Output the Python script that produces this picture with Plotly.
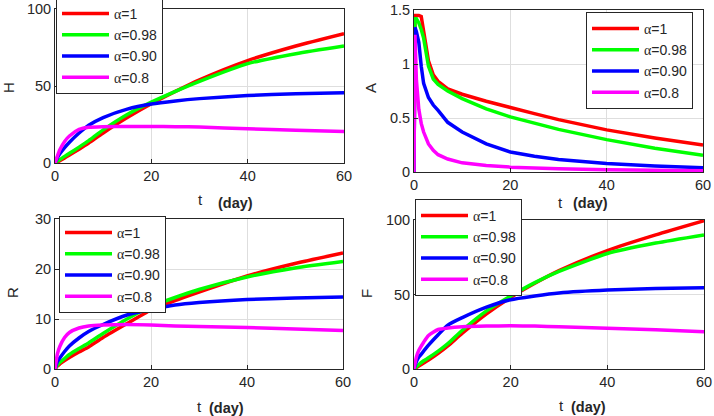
import plotly.graph_objects as go

W, H_PX = 714, 416

# ---------------- data ----------------
t = [0, 0.5, 1, 2, 3, 5, 7, 10, 15, 20, 25, 30, 40, 50, 60]
tA = [0, 0.2, 0.5, 1, 1.5, 2, 3, 4, 5, 7, 10, 15, 20, 25, 30, 40, 50, 60]

label_values = ["1", "0.98", "0.90", "0.8"]
colors = ["#ff0000", "#00ff00", "#0000ff", "#ff00ff"]

H_vals = [
    [0, 0.7, 1.5, 3.3, 5.2, 9, 13, 19.5, 29.5, 38.5, 46.5, 54, 66.5, 76, 84],
    [0, 1.2, 2.2, 4.3, 6.3, 10.3, 14.5, 21.5, 31.5, 39.5, 46.5, 53, 64.5, 71, 76],
    [0, 3.5, 6, 10, 13.5, 19.5, 24.5, 29.5, 35, 38.3, 40.3, 41.8, 43.8, 45, 45.6],
    [0, 4.5, 8.6, 14, 17.5, 21.8, 23.2, 23.6, 23.7, 23.7, 23.6, 23.3, 22.3, 21.2, 20.5],
]
A_vals = [
    [0, 1.45, 1.45, 1.45, 1.44, 1.3, 1.03, 0.9, 0.84, 0.77, 0.72, 0.655, 0.595, 0.54, 0.485, 0.39, 0.315, 0.25],
    [0, 1.42, 1.42, 1.38, 1.32, 1.24, 0.98, 0.86, 0.81, 0.75, 0.68, 0.585, 0.51, 0.45, 0.395, 0.30, 0.22, 0.155],
    [0, 1.34, 1.3, 1.2, 0.98, 0.82, 0.69, 0.62, 0.57, 0.46, 0.37, 0.26, 0.185, 0.145, 0.115, 0.078, 0.055, 0.04],
    [0, 1.27, 0.85, 0.58, 0.45, 0.37, 0.26, 0.2, 0.16, 0.12, 0.085, 0.06, 0.045, 0.035, 0.03, 0.02, 0.015, 0.012],
]
R_vals = [
    [0, 0.6, 1.0, 1.7, 2.3, 3.4, 4.4, 6.3, 9.1, 11.8, 13.7, 15.4, 18.6, 21.1, 23.2],
    [0, 0.8, 1.3, 2.1, 2.9, 4.1, 5.2, 7.1, 10, 12.5, 14.3, 15.9, 18.4, 20.2, 21.5],
    [0, 1.5, 2.2, 3.5, 4.6, 6.2, 7.5, 8.9, 10.8, 11.9, 12.8, 13.3, 13.9, 14.2, 14.4],
    [0, 3, 4.5, 6.3, 7.3, 8.2, 8.6, 8.8, 8.9, 8.8, 8.6, 8.5, 8.3, 8.0, 7.7],
]
F_vals = [
    [0, 1, 2, 4, 6, 10.5, 15.5, 24, 37, 48, 57.5, 66, 79.5, 90, 99.5],
    [0, 1.5, 3, 5.5, 7.5, 12, 17, 26, 39, 49, 58, 65.5, 77.5, 84.5, 90],
    [0, 5, 8, 12, 16, 23, 29.5, 34.5, 41.5, 46.5, 49, 51, 53, 54, 54.5],
    [0, 8, 12.5, 18, 22.5, 26.5, 27.5, 28.3, 28.8, 29, 28.8, 28.3, 27.3, 26.3, 25],
]

x_ticks = [0, 20, 40, 60]
panels = [
    # name, x data, y data, y range, y ticks, y tick text
    ("H", t, H_vals, [0, 100], [0, 50, 100], ["0", "50", "100"]),
    ("A", tA, A_vals, [0, 1.5], [0, 0.5, 1, 1.5], ["0", "0.5", "1", "1.5"]),
    ("R", t, R_vals, [0, 30], [0, 10, 20, 30], ["0", "10", "20", "30"]),
    ("F", t, F_vals, [0, 100], [0, 50, 100], ["0", "50", "100"]),
]

# ---------------- layout geometry (pixels) ----------------
# plot boxes: (left, right, top, bottom)
boxes = [(55, 344, 9, 163), (414, 703, 10, 172), (55, 343, 219, 369), (414, 704, 220, 369)]
legend_pos = [(56, -3), (586, 12), (59, 216), (415, 199)]
ylab_pos = [(8, 88), (370, 88), (12, 293), (366, 293)]
t_pos = [(200, 199), (560, 202), (199, 406), (561, 405)]
day_pos = [(235, 203), (590, 203), (226, 408), (588, 407)]

FONT = "Liberation Sans, Arial, sans-serif"
TXT = "#262626"
fig = go.Figure()
layout = dict(
    width=W, height=H_PX, margin=dict(l=0, r=0, t=0, b=0, autoexpand=False),
    paper_bgcolor="white", plot_bgcolor="white",
    font=dict(family=FONT, size=14, color=TXT),
    annotations=[],
)

for i, (name, xs, ys_list, yr, yt, ytt) in enumerate(panels):
    n = "" if i == 0 else str(i + 1)
    leg = "legend" if i == 0 else "legend" + str(i + 1)
    shape = "linear" if name == "A" else "spline"
    for j, ys in enumerate(ys_list):
        fig.add_trace(go.Scatter(
            x=xs, y=ys, mode="lines",
            name='<span style="font-family:Liberation Serif">α</span>=' + label_values[j],
            line=dict(color=colors[j], width=3.5, shape=shape, smoothing=0.6),
            xaxis="x" + n, yaxis="y" + n, legend=leg, hoverinfo="skip",
        ))
    l, r, tp, b = boxes[i]
    axcommon = dict(
        showline=True, mirror=True, linecolor=TXT, linewidth=1,
        ticks="inside", ticklen=4, tickcolor=TXT,
        showgrid=True, gridcolor="#dedede", gridwidth=1, zeroline=False,
        tickfont=dict(size=14.5, color=TXT), automargin=False,
    )
    layout["xaxis" + n] = dict(
        domain=[l / W, r / W], range=[0, 60], tickvals=x_ticks,
        ticktext=[str(v) for v in x_ticks], anchor="y" + n, **axcommon)
    layout["yaxis" + n] = dict(
        domain=[1 - b / H_PX, 1 - tp / H_PX], range=yr, tickvals=yt,
        ticktext=ytt, anchor="x" + n, **axcommon)
    lx, ly = legend_pos[i]
    layout[leg] = dict(
        x=lx / W, y=1 - ly / H_PX, xanchor="left", yanchor="top",
        xref="paper", yref="paper",
        bgcolor="white", bordercolor=TXT, borderwidth=1,
        font=dict(family=FONT, size=14, color=TXT),
        itemwidth=47, tracegroupgap=0,
    )
    yx, yy = ylab_pos[i]
    layout["annotations"].append(dict(
        x=yx / W, y=1 - yy / H_PX, xref="paper", yref="paper", text=name,
        xanchor="center", yanchor="middle",
        showarrow=False, textangle=-90, font=dict(size=15, color=TXT)))
    tx, ty = t_pos[i]
    layout["annotations"].append(dict(
        x=tx / W, y=1 - ty / H_PX, xref="paper", yref="paper", text="t",
        xanchor="center", yanchor="middle",
        showarrow=False, font=dict(size=15, color=TXT)))
    dx, dy = day_pos[i]
    layout["annotations"].append(dict(
        x=dx / W, y=1 - dy / H_PX, xref="paper", yref="paper", text="<b>(day)</b>",
        xanchor="center", yanchor="middle",
        showarrow=False, font=dict(size=14.5, color=TXT)))

fig.update_layout(**layout)
fig.write_html(
    "out.html",
    config={"displayModeBar": False},
    post_script="document.body.style.margin='0';document.body.style.overflow='hidden';",
)
